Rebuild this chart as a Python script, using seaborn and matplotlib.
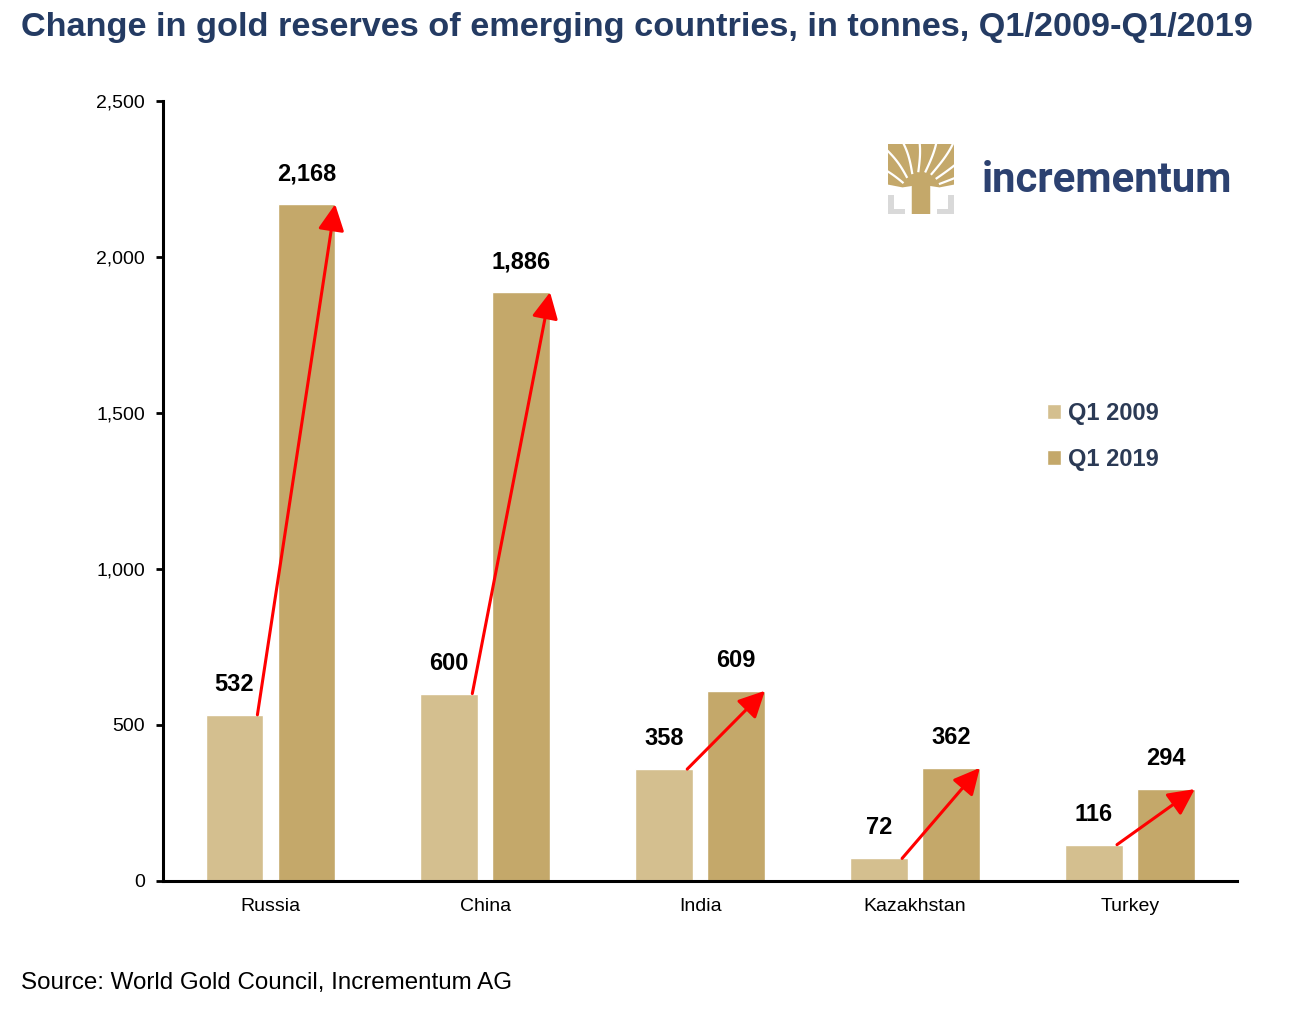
import numpy as np
import pandas as pd
import matplotlib
matplotlib.use("Agg")
import matplotlib.pyplot as plt
from matplotlib.patches import Patch, Polygon, Rectangle
from matplotlib.ticker import FuncFormatter
import seaborn as sns

countries = ["Russia", "China", "India", "Kazakhstan", "Turkey"]
q1_2009 = [532, 600, 358, 72, 116]
q1_2019 = [2168, 1886, 609, 362, 294]
periods = ["Q1 2009", "Q1 2019"]

col_2009 = "#D4BF8F"
col_2019 = "#C4A86A"
navy = "#243B63"

sns.set_style("white")
plt.rcParams["font.family"] = ["Liberation Sans", "DejaVu Sans"]
plt.rcParams["text.color"] = "black"
plt.rcParams["xtick.color"] = "black"
plt.rcParams["ytick.color"] = "black"

df = pd.DataFrame({
	"country": countries * 2,
	"period": [periods[0]] * len(countries) + [periods[1]] * len(countries),
	"value": q1_2009 + q1_2019,
})

fig = plt.figure(figsize=(12.93, 10.16), dpi=100)
ax = fig.add_axes([0.126, 0.133, 0.831, 0.768])

sns.barplot(data=df, x="country", y="value", hue="period", palette=[col_2009, col_2019],
			width=0.67, gap=0.2, saturation=1, legend=False, ax=ax)

ax.set_xlim(-0.5, 4.5)
ax.set_ylim(0, 2500)
ax.set_yticks(np.arange(0, 2501, 500))
ax.yaxis.set_major_formatter(FuncFormatter(lambda v, p: f"{v:,.0f}"))
ax.set_xlabel("")
ax.set_ylabel("")
for s in ["top", "right"]:
	ax.spines[s].set_visible(False)
for s in ["left", "bottom"]:
	ax.spines[s].set_linewidth(2.2)
	ax.spines[s].set_color("black")
ax.tick_params(axis="y", length=5, width=2, labelsize=14, pad=8, left=True)
ax.tick_params(axis="x", length=0, labelsize=14, pad=12)

# value labels
for cont in ax.containers:
	for bar in cont:
		h = bar.get_height()
		ax.annotate(f"{h:,.0f}", (bar.get_x() + bar.get_width() / 2, h),
					xytext=(0, 22), textcoords="offset points",
					ha="center", va="center", fontsize=17, fontweight="bold")

# red arrows from 2009 to 2019
c09, c19 = ax.containers[0], ax.containers[1]
for b0, b1 in zip(c09, c19):
	start = (b0.get_x() + b0.get_width() * 0.9, b0.get_height())
	end = (b1.get_x() + b1.get_width(), b1.get_height())
	ax.annotate("", xy=end, xytext=start,
				arrowprops=dict(arrowstyle="-|>,head_length=0.8,head_width=0.4",
								color="red", lw=2.2, mutation_scale=20,
								shrinkA=0, shrinkB=0))

# legend
handles = [Patch(facecolor=col_2009), Patch(facecolor=col_2019)]
leg = fig.legend(handles, periods, loc="upper left", bbox_to_anchor=(0.793, 0.625),
				 frameon=False, handlelength=0.6, handleheight=0.6, handletextpad=0.3,
				 labelspacing=0.95, prop={"size": 17, "weight": "bold"})
for t in leg.get_texts():
	t.set_color("#2B3A55")

# logo
lax = fig.add_axes([888 / 1293, 1 - 214 / 1016, 66 / 1293, 70 / 1016])
lax.set_xlim(0, 1)
lax.set_ylim(0, 1)
lax.axis("off")
gold = col_2019
canopy = Polygon([(0.0, 1.0), (1.0, 1.0), (1.0, 0.42), (0.78, 0.38), (0.64, 0.40),
				  (0.64, 0.0), (0.36, 0.0), (0.36, 0.40), (0.22, 0.38), (0.0, 0.42)],
				 closed=True, color=gold, lw=0)
lax.add_patch(canopy)
cx, cy = 0.5, 0.3
for ang in [8, 25, 42, 60, 78, 98, 116, 134, 152, 170]:
	a = np.deg2rad(ang)
	r = np.linspace(0.3, 1.2, 30)
	bend = 0.08 * np.sin(np.linspace(0, np.pi, 30))
	xs = cx + r * np.cos(a) + bend
	ys = cy + r * np.sin(a)
	ln, = lax.plot(xs, ys, color="white", lw=1.6, solid_capstyle="butt")
	ln.set_clip_path(canopy)
gray = "#D9D9D9"
lax.add_patch(Rectangle((0.0, 0.0), 0.26, 0.07, color=gray, lw=0))
lax.add_patch(Rectangle((0.0, 0.0), 0.09, 0.27, color=gray, lw=0))
lax.add_patch(Rectangle((0.74, 0.0), 0.26, 0.07, color=gray, lw=0))
lax.add_patch(Rectangle((0.91, 0.0), 0.09, 0.27, color=gray, lw=0))
fig.text(982 / 1293, 1 - 181 / 1016, "incrementum", fontsize=30.2, color="#2C4170",
		 ha="left", va="center", fontweight="bold", family="Roboto")

fig.text(0.016, 0.973, "Change in gold reserves of emerging countries, in tonnes, Q1/2009-Q1/2019",
		 fontsize=24.7, fontweight="bold", color=navy, ha="left", va="center")
fig.text(0.016, 1 - 983 / 1016, "Source: World Gold Council, Incrementum AG",
		 fontsize=17.4, ha="left", va="center")

fig.savefig("out.png", dpi=100)
